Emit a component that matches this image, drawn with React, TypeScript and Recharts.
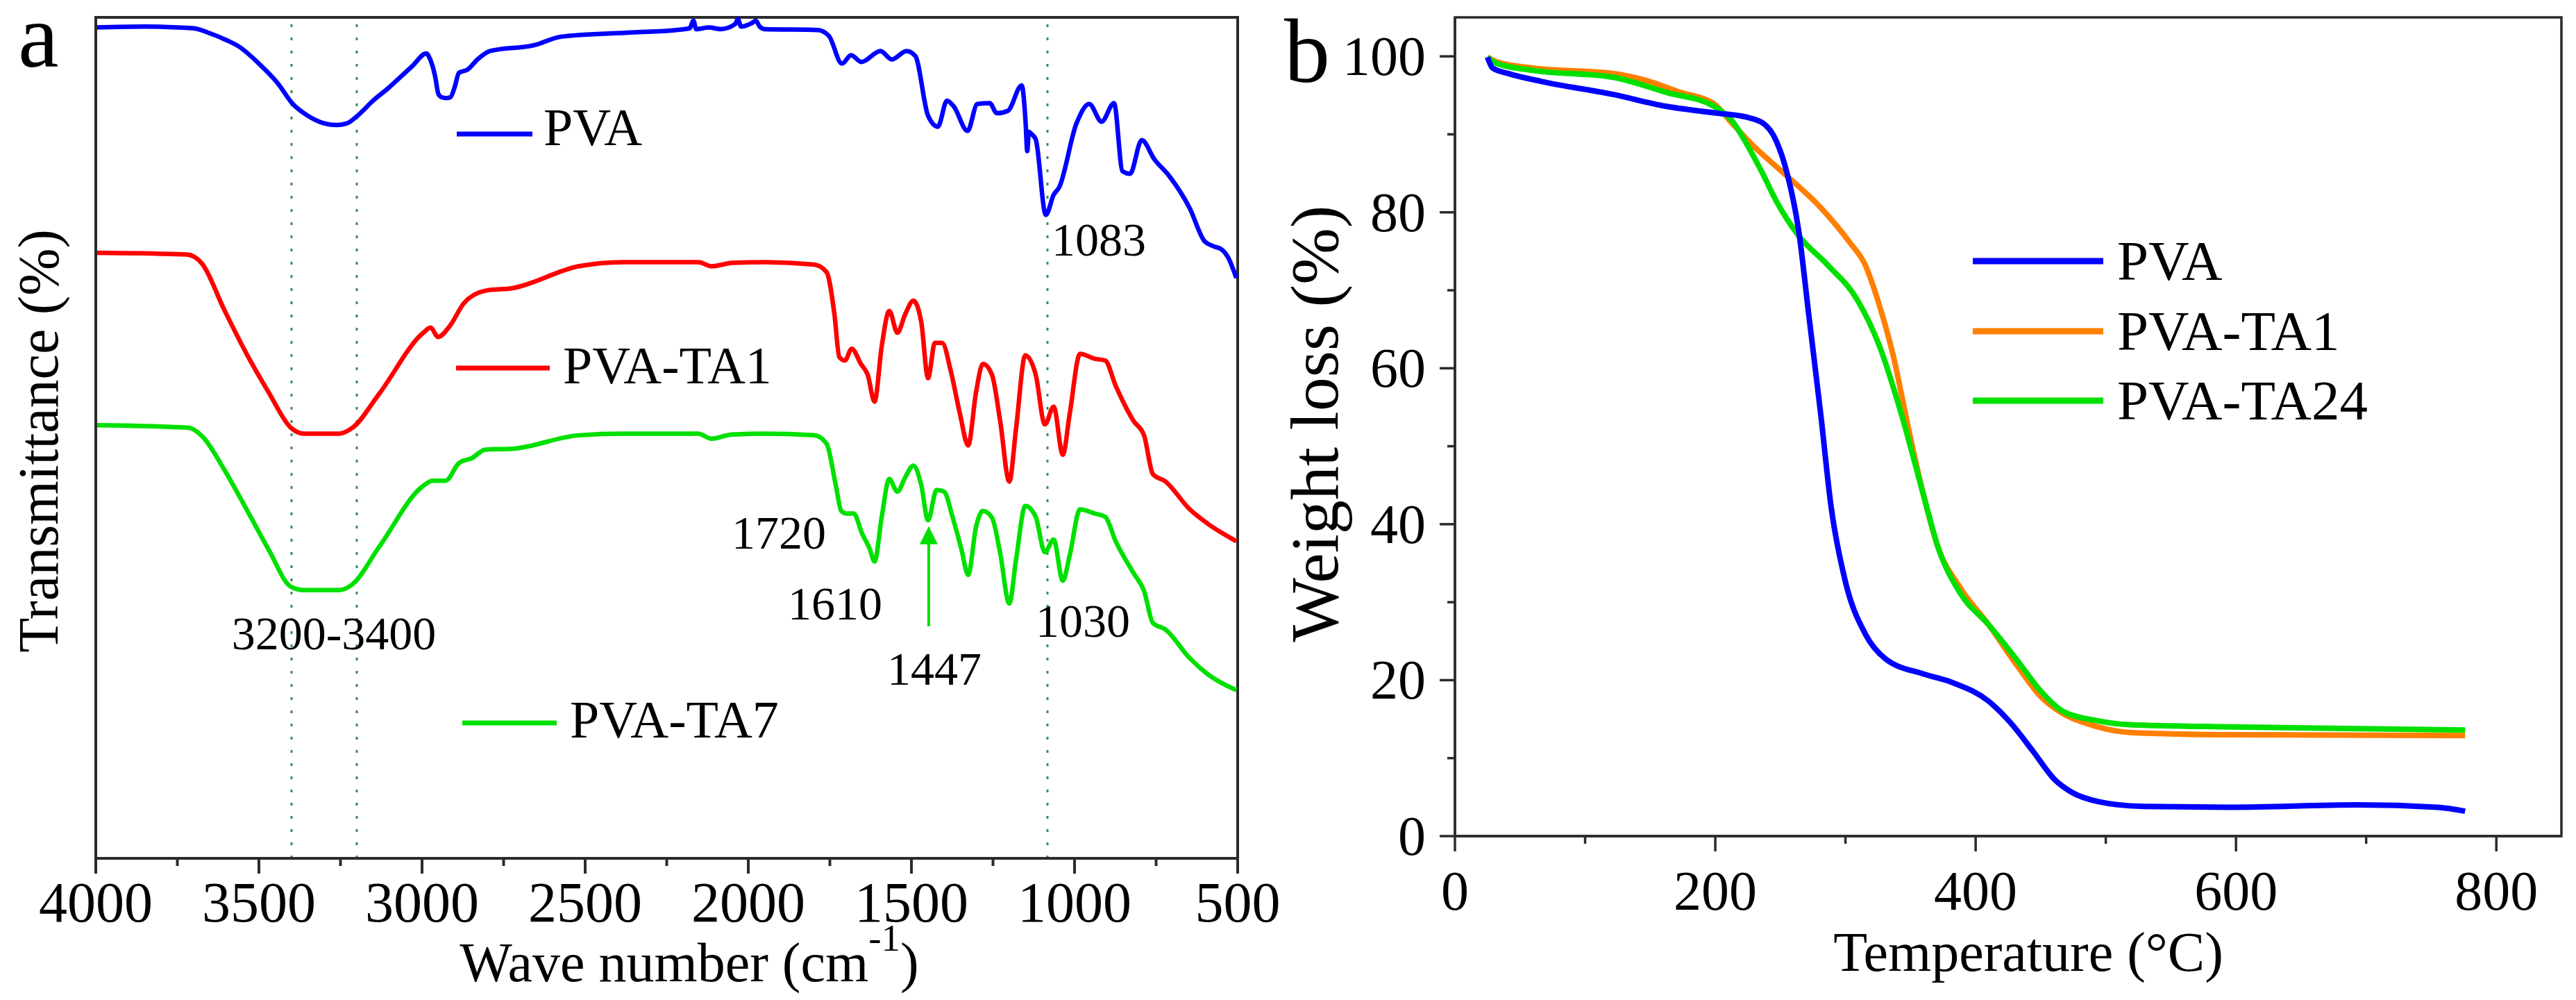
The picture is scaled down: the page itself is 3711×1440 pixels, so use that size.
import React from 'react';
import { LineChart, Line, XAxis, YAxis, ReferenceLine, ReferenceArea, ReferenceDot } from 'recharts';

const FONT = '"Liberation Serif", "Times New Roman", serif';
const AXIS = '#2b2b2b';
const BLUE = '#0000ff';
const RED = '#ff0000';
const GREEN = '#00e000';
const ORANGE = '#ff7f00';
const GUIDE = '#3d8a5c';

// ---- (a) FTIR spectra, transmittance in arbitrary units ----
const pvaWave = [4000, 3850, 3750, 3700, 3650, 3600, 3560, 3500, 3443, 3396, 3350, 3300, 3262, 3230, 3198, 3150, 3100, 3072, 3030, 2987, 2975, 2960, 2950, 2940, 2925, 2913, 2900, 2887, 2860, 2830, 2791, 2655, 2574, 2357, 2221, 2180, 2168, 2160, 2120, 2085, 2040, 2032, 2022, 1990, 1977, 1965, 1949, 1787, 1753, 1713, 1685, 1653, 1595, 1560, 1515, 1488, 1449, 1419, 1391, 1370, 1328, 1298, 1260, 1238, 1204, 1162, 1150, 1145, 1140, 1134, 1119, 1088, 1064, 1047, 994, 955, 917, 879, 853, 830, 794, 755, 711, 647, 602, 575, 549, 530, 504];
const pvaTrans = [98.8, 98.9, 98.8, 98.7, 98.1, 97.3, 96.5, 94.5, 92.2, 89.7, 88.3, 87.4, 87.2, 87.4, 88.3, 90.1, 91.7, 92.7, 94.2, 95.7, 95.0, 93.0, 90.9, 90.5, 90.4, 90.5, 91.7, 93.4, 93.8, 95.0, 96.0, 96.7, 97.7, 98.2, 98.5, 98.7, 99.6, 98.6, 98.8, 98.6, 99.2, 99.8, 98.9, 99.3, 99.6, 98.9, 98.6, 98.5, 97.8, 94.5, 95.5, 94.7, 96.0, 95.0, 96.0, 95.4, 88.3, 87.0, 90.1, 89.4, 86.5, 89.7, 89.8, 88.6, 88.9, 91.9, 87.5, 84.1, 86.4, 86.2, 85.5, 76.5, 78.9, 79.8, 87.4, 89.7, 87.6, 89.8, 81.7, 81.4, 85.4, 83.1, 81.2, 77.3, 73.4, 72.8, 72.4, 71.5, 69.0];

const ta1Wave = [4000, 3721, 3674, 3606, 3538, 3470, 3402, 3362, 3253, 3213, 3132, 2996, 2974, 2951, 2915, 2872, 2806, 2723, 2521, 2385, 2153, 2113, 2050, 1949, 1798, 1760, 1736, 1721, 1704, 1683, 1655, 1634, 1613, 1591, 1568, 1543, 1519, 1494, 1470, 1449, 1428, 1406, 1379, 1351, 1326, 1302, 1281, 1253, 1228, 1200, 1179, 1151, 1119, 1091, 1064, 1036, 1015, 983, 938, 906, 874, 819, 787, 760, 721, 647, 592, 504];
const ta1Trans = [72.0, 71.8, 70.7, 65.2, 60.0, 55.4, 51.2, 50.5, 50.5, 51.2, 55.2, 62.5, 63.1, 62.0, 63.3, 66.0, 67.5, 67.8, 70.4, 70.9, 70.9, 70.4, 70.8, 70.9, 70.6, 69.7, 64.7, 59.6, 59.2, 60.6, 58.8, 57.5, 54.3, 60.9, 65.1, 62.5, 64.7, 66.3, 63.8, 57.1, 61.3, 61.3, 57.9, 52.8, 49.1, 55.4, 58.8, 57.5, 52.0, 44.8, 51.2, 59.8, 57.5, 51.6, 53.7, 48.0, 52.8, 60.0, 59.4, 59.2, 56.2, 52.0, 50.3, 45.7, 44.8, 41.5, 39.8, 37.7];

const ta7Wave = [4000, 3715, 3674, 3606, 3538, 3470, 3402, 3362, 3253, 3213, 3132, 2996, 2968, 2928, 2887, 2847, 2806, 2723, 2521, 2385, 2153, 2113, 2050, 1949, 1798, 1760, 1732, 1715, 1700, 1677, 1651, 1628, 1613, 1591, 1568, 1543, 1519, 1494, 1470, 1449, 1423, 1400, 1374, 1347, 1326, 1302, 1281, 1253, 1228, 1200, 1179, 1151, 1119, 1091, 1064, 1036, 1015, 983, 938, 906, 874, 819, 787, 760, 721, 647, 592, 504];
const ta7Trans = [51.5, 51.2, 50.2, 46.2, 41.5, 36.7, 32.3, 31.9, 31.9, 32.6, 37.0, 44.3, 44.9, 44.9, 47.0, 47.6, 48.6, 48.7, 50.3, 50.5, 50.5, 49.9, 50.4, 50.5, 50.3, 49.3, 44.4, 41.3, 41.0, 41.0, 38.6, 36.8, 35.3, 40.6, 45.1, 43.6, 45.3, 46.7, 44.4, 40.2, 43.8, 43.6, 40.6, 36.8, 33.7, 39.4, 41.3, 40.5, 36.3, 30.3, 35.6, 41.9, 40.6, 36.4, 37.9, 33.0, 36.0, 41.5, 41.0, 40.6, 37.7, 33.9, 31.8, 28.0, 27.2, 23.8, 21.9, 20.0];

const waveTicks = [4000, 3750, 3500, 3250, 3000, 2750, 2500, 2250, 2000, 1750, 1500, 1250, 1000, 750, 500];
const markedBands = [3400, 3200, 1083];
const arrowBand = 1447;

// ---- (b) TGA curves ----
const pvaTemp = [25, 29, 41, 66, 122, 162, 202, 224, 237, 247, 255, 264, 272, 281, 289, 300, 315, 331, 360, 382, 410, 427, 444, 461, 473, 495, 529, 597, 693, 755, 776];
const pvaLoss = [99.9, 98.5, 97.8, 96.8, 95.1, 93.6, 92.7, 92.2, 91.4, 89.1, 85.1, 77.7, 66.6, 54.1, 42.2, 32.6, 26.0, 22.7, 20.8, 19.7, 17.3, 14.5, 10.9, 7.2, 5.7, 4.4, 3.8, 3.7, 4.0, 3.7, 3.2];

const ta1Temp = [25, 32, 60, 122, 145, 173, 199, 213, 230, 252, 281, 303, 315, 326, 337, 348, 360, 371, 388, 410, 433, 450, 467, 490, 518, 597, 776];
const ta1Loss = [99.9, 99.3, 98.5, 97.8, 97.0, 95.4, 93.9, 91.4, 88.4, 85.1, 80.6, 76.2, 73.3, 68.1, 61.4, 52.6, 43.7, 37.1, 31.9, 27.1, 21.6, 17.9, 15.7, 14.2, 13.3, 13.0, 12.9];

const ta24Temp = [25, 32, 60, 122, 162, 199, 213, 224, 236, 247, 264, 286, 309, 326, 343, 360, 371, 388, 410, 433, 450, 467, 490, 518, 597, 776];
const ta24Loss = [99.9, 99.1, 98.2, 97.3, 95.4, 93.6, 91.7, 88.8, 85.1, 81.4, 77.0, 73.3, 68.8, 62.9, 54.1, 43.7, 37.1, 31.2, 27.1, 22.3, 18.6, 16.0, 14.9, 14.3, 14.0, 13.6];

const tempTicks = [0, 100, 200, 300, 400, 500, 600, 700, 800];
const lossTicks = [0, 10, 20, 30, 40, 50, 60, 70, 80, 90, 100];

const zip = (xs: number[], ys: number[]) => xs.map((x, i) => ({ x, y: ys[i] }));

const pva = zip(pvaWave, pvaTrans);
const pvaTa1 = zip(ta1Wave, ta1Trans);
const pvaTa7 = zip(ta7Wave, ta7Trans);
const tgaPva = zip(pvaTemp, pvaLoss);
const tgaTa1 = zip(ta1Temp, ta1Loss);
const tgaTa24 = zip(ta24Temp, ta24Loss);

function WaveTick(props: any) {
  const { x, y, payload } = props;
  const major = payload.value % 500 === 0;
  return (
    <g>
      <line x1={x} x2={x} y1={y} y2={y + (major ? 22 : 11)} stroke={AXIS} strokeWidth={4} />
      {major && (
        <text x={x} y={y + 91} textAnchor="middle" fontSize={82} fontFamily={FONT} fill="#000">
          {payload.value}
        </text>
      )}
    </g>
  );
}

function TempTick(props: any) {
  const { x, y, payload } = props;
  const major = payload.value % 200 === 0;
  return (
    <g>
      <line x1={x} x2={x} y1={y} y2={y + (major ? 22 : 11)} stroke={AXIS} strokeWidth={3.5} />
      {major && (
        <text x={x} y={y + 106} textAnchor="middle" fontSize={80} fontFamily={FONT} fill="#000">
          {payload.value}
        </text>
      )}
    </g>
  );
}

function LossTick(props: any) {
  const { x, y, payload } = props;
  const major = payload.value % 20 === 0;
  return (
    <g>
      <line x1={x - (major ? 22 : 11)} x2={x} y1={y} y2={y} stroke={AXIS} strokeWidth={3.5} />
      {major && (
        <text x={x - 42} y={y + 27} textAnchor="end" fontSize={80} fontFamily={FONT} fill="#000">
          {payload.value}
        </text>
      )}
    </g>
  );
}

const ArrowHead = (p: any) => (
  <path d={`M${p.cx},${p.cy} L${p.cx - 13},${p.cy + 26} L${p.cx + 13},${p.cy + 26} Z`} fill={GREEN} />
);

function FtirPanel() {
  return (
    <LineChart width={1900} height={1440} margin={{ top: 25, right: 117, bottom: 54, left: 38 }}>
      <XAxis
        type="number"
        dataKey="x"
        domain={[500, 4000]}
        reversed
        ticks={waveTicks}
        interval={0}
        tickLine={false}
        tickSize={0}
        tickMargin={0}
        height={150}
        axisLine={{ stroke: AXIS, strokeWidth: 4 }}
        tick={<WaveTick />}
      />
      <YAxis type="number" dataKey="y" domain={[0, 100]} tick={false} tickLine={false} width={100} axisLine={{ stroke: AXIS, strokeWidth: 4 }} />
      <ReferenceArea x1={4000} x2={500} y1={0} y2={100} fill="none" stroke={AXIS} strokeWidth={4} ifOverflow="visible" />
      {markedBands.map((b) => (
        <ReferenceLine key={b} x={b} stroke={GUIDE} strokeWidth={3} strokeDasharray="4 15" />
      ))}
      <Line data={pva} dataKey="y" type="monotone" stroke={BLUE} strokeWidth={6.5} dot={false} activeDot={false} isAnimationActive={false} />
      <Line data={pvaTa1} dataKey="y" type="monotone" stroke={RED} strokeWidth={6.5} dot={false} activeDot={false} isAnimationActive={false} />
      <Line data={pvaTa7} dataKey="y" type="monotone" stroke={GREEN} strokeWidth={6.5} dot={false} activeDot={false} isAnimationActive={false} />
      <ReferenceLine segment={[{ x: arrowBand, y: 27.6 }, { x: arrowBand, y: 37.8 }]} stroke={GREEN} strokeWidth={4} />
      <ReferenceDot x={arrowBand} y={39.5} r={1} shape={ArrowHead} />
    </LineChart>
  );
}

function TgaPanel() {
  return (
    <LineChart width={1811} height={1440} margin={{ top: 25, right: 21, bottom: 86, left: 46 }}>
      <XAxis
        type="number"
        dataKey="x"
        domain={[0, 850]}
        ticks={tempTicks}
        interval={0}
        tickLine={false}
        tickSize={0}
        tickMargin={0}
        height={150}
        axisLine={{ stroke: AXIS, strokeWidth: 3.5 }}
        tick={<TempTick />}
      />
      <YAxis
        type="number"
        dataKey="y"
        domain={[0, 105]}
        ticks={lossTicks}
        interval={0}
        tickLine={false}
        tickSize={0}
        tickMargin={0}
        width={150}
        axisLine={{ stroke: AXIS, strokeWidth: 3.5 }}
        tick={<LossTick />}
      />
      <ReferenceArea x1={0} x2={850} y1={0} y2={105} fill="none" stroke={AXIS} strokeWidth={3.5} ifOverflow="visible" />
      <Line data={tgaTa1} dataKey="y" type="monotone" stroke={ORANGE} strokeWidth={8} dot={false} activeDot={false} isAnimationActive={false} />
      <Line data={tgaTa24} dataKey="y" type="monotone" stroke={GREEN} strokeWidth={8} dot={false} activeDot={false} isAnimationActive={false} />
      <Line data={tgaPva} dataKey="y" type="monotone" stroke={BLUE} strokeWidth={8} dot={false} activeDot={false} isAnimationActive={false} />
    </LineChart>
  );
}

// titles, panel letters, legends and band labels
function Annotations() {
  const t = { fontFamily: FONT, fill: '#000' };
  return (
    <svg width={3711} height={1440} style={{ position: 'absolute', left: 0, top: 0, pointerEvents: 'none' }}>
      <text x={26} y={96} fontSize={132} {...t}>a</text>
      <text x={1850} y={118} fontSize={132} {...t}>b</text>

      <text x={83} y={635} fontSize={82} textAnchor="middle" transform="rotate(-90 83 635)" {...t}>Transmittance (%)</text>
      <text x={1927} y={610} fontSize={98} textAnchor="middle" transform="rotate(-90 1927 610)" {...t}>Weight loss (%)</text>

      <text x={993} y={1413} fontSize={80} textAnchor="middle" {...t}>
        Wave number (cm
        <tspan fontSize={55} dy={-44}>-1</tspan>
        <tspan dy={44}>)</tspan>
      </text>
      <text x={2922} y={1398} fontSize={80} textAnchor="middle" {...t}>Temperature (°C)</text>

      <line x1={658} x2={767} y1={193} y2={193} stroke={BLUE} strokeWidth={7} />
      <text x={783} y={209} fontSize={76} {...t}>PVA</text>
      <line x1={657} x2={792} y1={530} y2={530} stroke={RED} strokeWidth={7} />
      <text x={811} y={552} fontSize={76} {...t}>PVA-TA1</text>
      <line x1={666} x2={802} y1={1041} y2={1041} stroke={GREEN} strokeWidth={7} />
      <text x={821} y={1062} fontSize={76} {...t}>PVA-TA7</text>

      <text x={481} y={935} fontSize={68} textAnchor="middle" {...t}>3200-3400</text>
      <text x={1515} y={368} fontSize={68} {...t}>1083</text>
      <text x={1054} y={790} fontSize={68} {...t}>1720</text>
      <text x={1135} y={892} fontSize={68} {...t}>1610</text>
      <text x={1278} y={986} fontSize={68} {...t}>1447</text>
      <text x={1492} y={917} fontSize={68} {...t}>1030</text>

      <line x1={2842} x2={3030} y1={376} y2={376} stroke={BLUE} strokeWidth={9} />
      <text x={3050} y={403} fontSize={81} {...t}>PVA</text>
      <line x1={2842} x2={3030} y1={477} y2={477} stroke={ORANGE} strokeWidth={9} />
      <text x={3050} y={504} fontSize={81} {...t}>PVA-TA1</text>
      <line x1={2842} x2={3030} y1={577} y2={577} stroke={GREEN} strokeWidth={9} />
      <text x={3050} y={604} fontSize={81} {...t}>PVA-TA24</text>
    </svg>
  );
}

export default function App() {
  return (
    <div style={{ position: 'absolute', left: 0, top: 0, width: 3711, height: 1440, background: '#fff', fontFamily: FONT }}>
      <div style={{ position: 'absolute', left: 0, top: 0 }}>
        <FtirPanel />
      </div>
      <div style={{ position: 'absolute', left: 1900, top: 0 }}>
        <TgaPanel />
      </div>
      <Annotations />
    </div>
  );
}
